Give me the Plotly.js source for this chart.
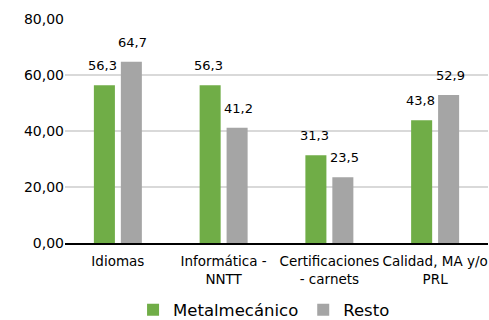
<!DOCTYPE html>
<html><head><meta charset="utf-8">
<script src="https://cdn.plot.ly/plotly-3.0.1.min.js"></script>
<style>html,body{margin:0;padding:0;background:#fff}#chart{width:489px;height:320px}</style>
</head><body><div id="chart"></div>
<script>
const categories = ["Idiomas", "Informática -<br>NNTT", "Certificaciones<br>- carnets", "Calidad, MA y/o<br>PRL"];
const metalmecanico = [56.3, 56.3, 31.3, 43.8];
const resto = [64.7, 41.2, 23.5, 52.9];
const seriesNames = ["Metalmecánico", "Resto"];
const tickVals = [0, 20, 40, 60, 80];

const FONT = "DejaVu Sans";
const traces = [
  {type: "bar", name: seriesNames[0], x: categories, y: metalmecanico, marker: {color: "#70AD47"}, hoverinfo: "none"},
  {type: "bar", name: seriesNames[1], x: categories, y: resto, marker: {color: "#A5A5A5"}, hoverinfo: "none"}
];
const fmt = v => v.toFixed(1).replace(".", ",");
const annotations = [];
[[metalmecanico, -15], [resto, 15]].forEach(([arr, dx]) => {
  arr.forEach((v, i) => annotations.push({
    x: categories[i], y: v, xref: "x", yref: "y", text: fmt(v), showarrow: false,
    xshift: dx, yshift: 10, yanchor: "bottom", xanchor: "center",
    font: {family: FONT, size: 13, color: "#000"}
  }));
});
const layout = {
  width: 489, height: 320,
  margin: {l: 65, r: 1, t: 19, b: 77},
  paper_bgcolor: "#fff", plot_bgcolor: "#fff",
  separators: ",.",
  barmode: "group", bargap: 0.49, bargroupgap: 0.22,
  showlegend: true,
  legend: {orientation: "h", xref: "container", x: 0.54, xanchor: "center", yref: "container", y: 0.031, yanchor: "middle",
           font: {family: FONT, size: 16.5, color: "#000"}, itemwidth: 30, traceorder: "normal"},
  xaxis: {automargin: false, tickfont: {family: FONT, size: 13.5, color: "#000"}, showline: true, linecolor: "#000", linewidth: 2,
          ticks: "", ticklabelstandoff: 5, showgrid: false, fixedrange: true},
  yaxis: {automargin: false, range: [0, 80], tickvals: tickVals, tickformat: ".2f", showgrid: true, gridcolor: "#D9D9D9", gridwidth: 2,
          zeroline: false, showline: false, ticks: "", ticklen: 0, tickfont: {family: FONT, size: 14, color: "#000"}, fixedrange: true},
  annotations: annotations
};
Plotly.newPlot("chart", traces, layout, {displayModeBar: false, staticPlot: true});
</script></body></html>
